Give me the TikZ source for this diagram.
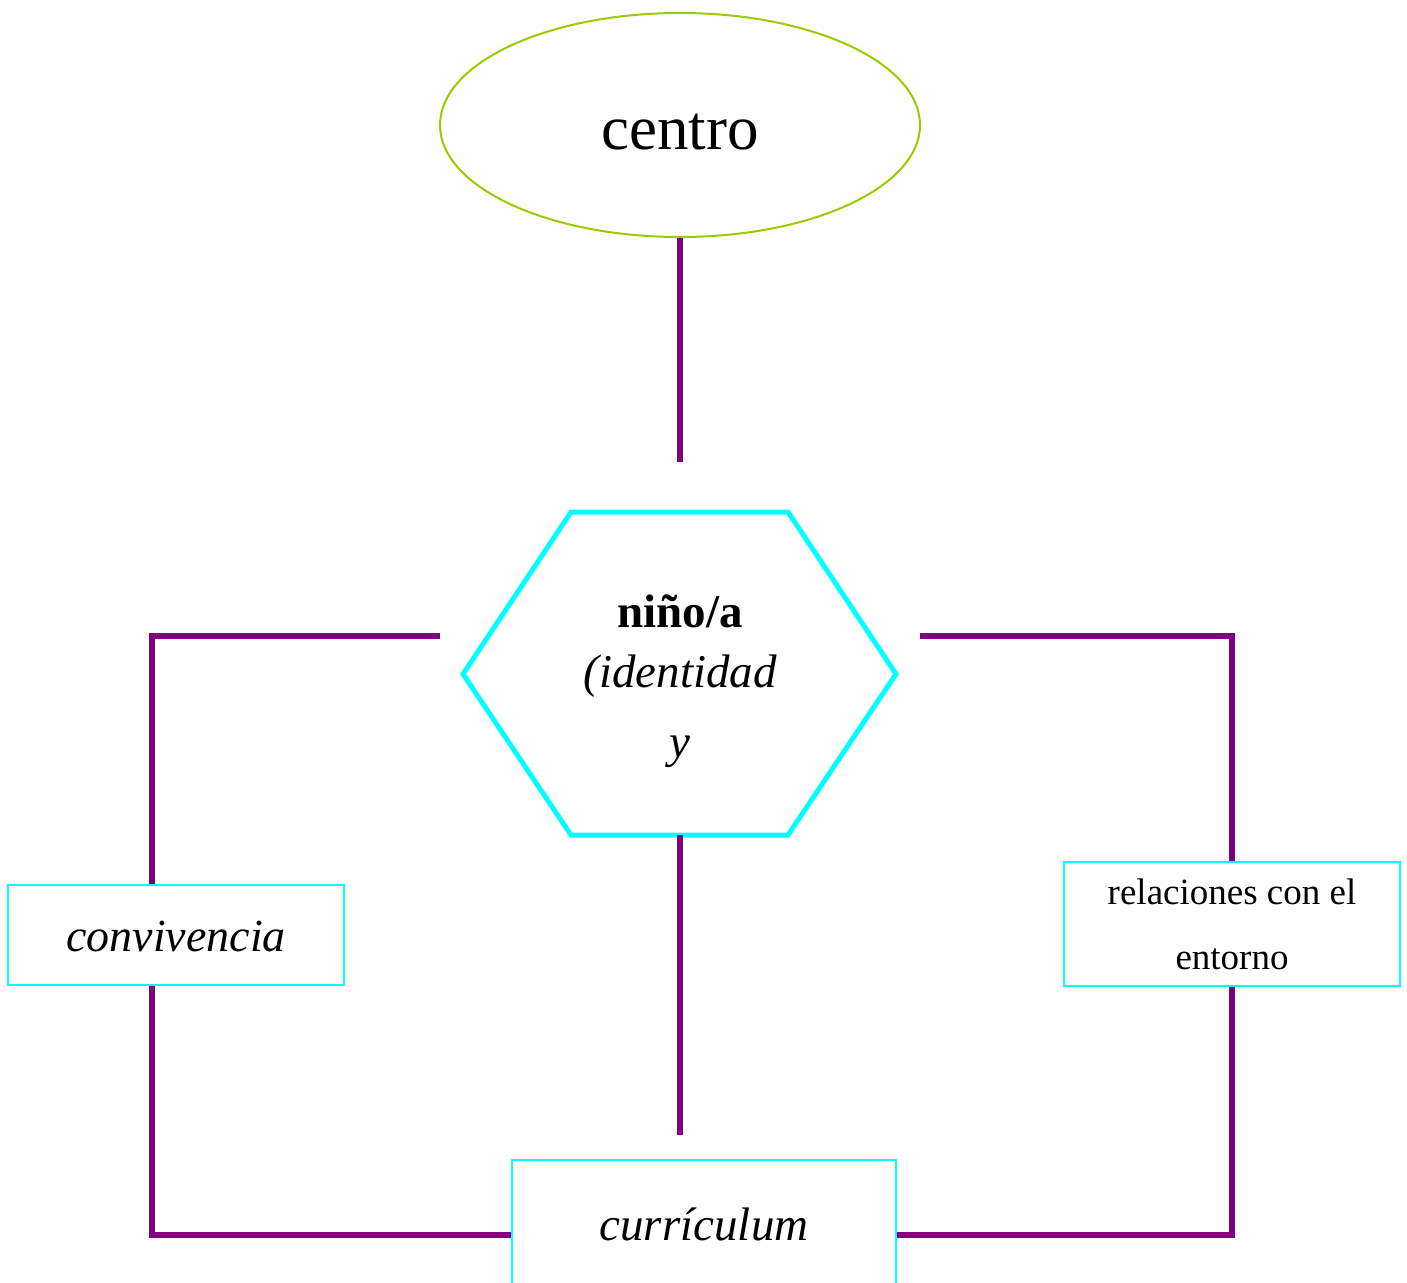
\documentclass[tikz,border=0pt]{standalone}
\usepackage{fontspec}
\setmainfont{Liberation Serif}
\usepackage{xcolor}
\usetikzlibrary{shapes.geometric, positioning, calc}
\definecolor{linkpurple}{HTML}{800080}
\definecolor{boxcyan}{HTML}{00FFFF}
\definecolor{ovalgreen}{HTML}{99CC00}

\begin{document}
\begin{tikzpicture}[x=1pt, y=-1pt,
    link/.style={linkpurple, line width=6pt},
    cbox/.style={draw=boxcyan, line width=2pt, rectangle, inner sep=0pt},
    oval/.style={draw=ovalgreen, line width=2pt, ellipse, minimum width=480pt, minimum height=224pt},
    hexline/.style={draw=boxcyan, line width=5pt, line join=miter}]
      \clip (0,0) rectangle (1407,1282);
      \fill[white] (0,0) rectangle (1407,1282);

      \node[oval, text height=50pt, font={\fontsize{63}{70}\selectfont}] (centro) at (680,125) {centro};

      % hexagon with its three text lines
      \draw[hexline] (571,512) -- (788,512) -- (896,674) -- (788,835) -- (571,835) -- (463,674) -- cycle;
      \node[anchor=base, font={\fontsize{47}{56}\selectfont\bfseries}] (nino) at (680,627) {niño/a};
      \node[anchor=base, font={\fontsize{47}{56}\selectfont\itshape}] (ninoid) at (680,687) {(identidad};
      \node[anchor=base, font={\fontsize{47}{56}\selectfont\itshape}] (ninoy) at (680,757) {y};
      \coordinate (hexT) at (680,462);
      \coordinate (hexB) at (680,835);

      \node[cbox, minimum width=336pt, minimum height=100pt, text height=34pt, font={\fontsize{46}{56}\selectfont\itshape}] (conv) at (176,935) {convivencia};
      \node[cbox, minimum width=336pt, minimum height=124pt, align=center, font={\fontsize{37}{65}\selectfont}] (rel) at (1232,924)
        {relaciones con el\\ entorno};
      \node[cbox, minimum width=384pt, minimum height=128pt, font={\fontsize{47}{56}\selectfont\itshape}] (curr) at (704,1224) {currículum};

      \coordinate (lA) at (440,636);
      \coordinate (lC) at (152,636);
      \coordinate (lD) at (152,1235);
      \coordinate (rA) at (920,636);
      \coordinate (rD) at (1232,1235);
      \coordinate (cE) at (680,1135);

      \draw[link] (centro.south) -- (hexT);
      \draw[link] (hexB) -- (cE);
      \draw[link] (lA) -- (lC) -- (lC |- conv.north);
      \draw[link] (lC |- conv.south) -- (lD) -- (lD -| curr.west);
      \draw[link] (rA) -| (rel.north);
      \draw[link] (rel.south) -- (rD) -- (rD -| curr.east);

    \end{tikzpicture}
\end{document}
